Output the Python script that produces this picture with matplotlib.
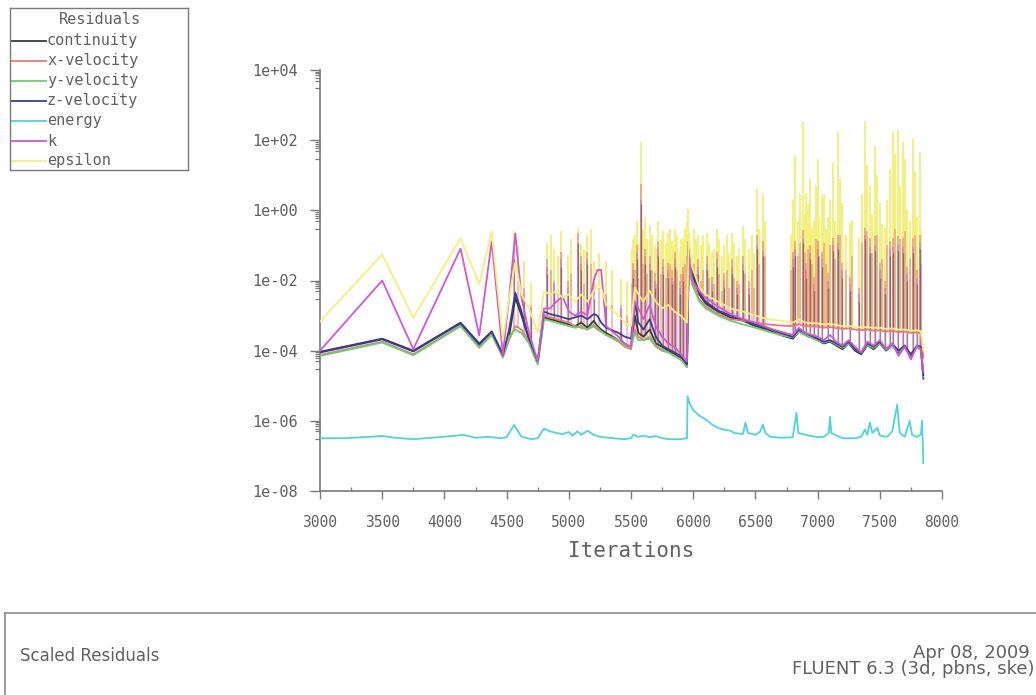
import numpy as np
import matplotlib

matplotlib.use("Agg")
import matplotlib.pyplot as plt
from matplotlib.lines import Line2D
from matplotlib.ticker import FixedLocator, FuncFormatter, MultipleLocator

# ---------- residual history ----------
ITERS = [
    3000, 3500, 3750, 4130, 4280, 4380, 4470, 4520, 4570, 4620,
    4680, 4750, 4800, 4850, 4900, 4950, 5000, 5050, 5100, 5150,
    5200, 5230, 5260, 5300, 5400, 5450, 5500, 5530, 5560, 5600,
    5650, 5700, 5750, 5800, 5850, 5900, 5950, 5965, 5990, 6050,
    6100, 6200, 6300, 6400, 6500, 6600, 6700, 6800, 6850, 6900,
    7000, 7050, 7100, 7150, 7200, 7250, 7300, 7350, 7400, 7450,
    7500, 7550, 7600, 7650, 7700, 7750, 7800, 7830, 7850,
]

CONTINUITY = [
    9.3e-5, 2.2e-4, 1.0e-4, 6.3e-4, 1.6e-4, 3.5e-4, 7.9e-5, 2.5e-4, 3.2e-3, 1.0e-3,
    2.0e-4, 4.5e-5, 8.9e-4, 7.9e-4, 7.1e-4, 6.3e-4, 5.6e-4, 5.0e-4, 6.3e-4, 4.5e-4,
    7.1e-4, 5.0e-4, 4.0e-4, 3.2e-4, 2.0e-4, 1.4e-4, 1.3e-4, 1.0e-3, 3.2e-4, 2.5e-4,
    4.0e-4, 1.6e-4, 1.3e-4, 1.0e-4, 7.9e-5, 6.3e-5, 3.5e-5, 1.0e-1, 1.6e-2, 4.0e-3,
    2.2e-3, 1.3e-3, 8.9e-4, 7.1e-4, 5.0e-4, 4.0e-4, 2.8e-4, 2.2e-4, 3.5e-4, 2.8e-4,
    2.0e-4, 1.6e-4, 1.8e-4, 1.4e-4, 1.1e-4, 1.6e-4, 1.0e-4, 7.9e-5, 1.4e-4, 1.1e-4,
    1.6e-4, 1.0e-4, 1.4e-4, 8.9e-5, 1.3e-4, 7.1e-5, 1.3e-4, 1.1e-4, 1.6e-5,
]
X_VELOCITY = [
    7.6e-5, 1.8e-4, 7.9e-5, 5.2e-4, 1.3e-4, 3.0e-4, 6.3e-5, 2.0e-4, 5.0e-4, 4.0e-4,
    1.8e-4, 4.5e-5, 1.0e-3, 8.9e-4, 7.9e-4, 7.1e-4, 6.3e-4, 5.0e-4, 4.5e-4, 4.0e-4,
    5.0e-4, 4.0e-4, 3.5e-4, 2.8e-4, 1.8e-4, 1.3e-4, 1.1e-4, 4.0e-4, 2.5e-4, 2.0e-4,
    2.2e-4, 1.3e-4, 1.0e-4, 8.9e-5, 7.1e-5, 5.6e-5, 3.5e-5, 4.0e-2, 1.0e-2, 2.8e-3,
    1.8e-3, 1.1e-3, 7.9e-4, 7.1e-4, 6.3e-4, 5.6e-4, 5.2e-4, 5.0e-4, 5.6e-4, 5.0e-4,
    4.8e-4, 4.5e-4, 4.7e-4, 4.4e-4, 4.2e-4, 4.3e-4, 4.0e-4, 3.8e-4, 4.0e-4, 3.7e-4,
    3.8e-4, 3.5e-4, 3.6e-4, 3.4e-4, 3.5e-4, 3.2e-4, 3.3e-4, 3.2e-4, 6.3e-5,
]
Y_VELOCITY = [
    7.1e-5, 1.7e-4, 7.4e-5, 5.0e-4, 1.2e-4, 2.8e-4, 7.1e-5, 2.5e-4, 4.0e-4, 3.2e-4,
    1.6e-4, 4.0e-5, 7.9e-4, 7.1e-4, 6.3e-4, 5.6e-4, 5.0e-4, 4.5e-4, 5.0e-4, 4.0e-4,
    5.6e-4, 4.5e-4, 3.5e-4, 2.8e-4, 2.0e-4, 1.4e-4, 1.3e-4, 3.2e-4, 2.0e-4, 2.0e-4,
    2.5e-4, 1.4e-4, 1.1e-4, 8.9e-5, 7.1e-5, 5.6e-5, 3.5e-5, 2.5e-2, 7.9e-3, 2.5e-3,
    1.6e-3, 1.0e-3, 7.1e-4, 5.6e-4, 4.5e-4, 3.5e-4, 2.8e-4, 2.4e-4, 3.5e-4, 2.8e-4,
    2.0e-4, 1.7e-4, 1.9e-4, 1.5e-4, 1.2e-4, 1.6e-4, 1.1e-4, 8.9e-5, 1.4e-4, 1.2e-4,
    1.6e-4, 1.05e-4, 1.4e-4, 9.5e-5, 1.3e-4, 7.6e-5, 1.3e-4, 1.1e-4, 1.8e-5,
]
Z_VELOCITY = [
    8.9e-5, 2.1e-4, 9.5e-5, 6.0e-4, 1.5e-4, 3.5e-4, 7.6e-5, 4.0e-4, 4.5e-3, 1.3e-3,
    2.2e-4, 5.0e-5, 1.3e-3, 1.1e-3, 1.0e-3, 8.9e-4, 7.9e-4, 8.9e-4, 1.0e-3, 7.9e-4,
    1.1e-3, 1.0e-3, 6.3e-4, 4.5e-4, 3.2e-4, 2.5e-4, 2.2e-4, 2.5e-3, 6.3e-4, 4.0e-4,
    7.9e-4, 2.5e-4, 1.4e-4, 1.1e-4, 8.9e-5, 7.1e-5, 4.0e-5, 1.3e-1, 2.0e-2, 4.5e-3,
    2.5e-3, 1.4e-3, 1.0e-3, 7.9e-4, 5.6e-4, 4.5e-4, 3.2e-4, 2.5e-4, 4.0e-4, 3.2e-4,
    2.2e-4, 1.8e-4, 2.0e-4, 1.6e-4, 1.3e-4, 1.8e-4, 1.1e-4, 8.9e-5, 1.6e-4, 1.3e-4,
    1.8e-4, 1.1e-4, 1.6e-4, 1.0e-4, 1.4e-4, 7.9e-5, 1.4e-4, 1.3e-4, 2.0e-5,
]
K_RES = [
    1.0e-4, 1.0e-2, 1.1e-4, 8.1e-2, 2.7e-4, 1.3e-1, 7.9e-5, 3.2e-3, 2.2e-1, 3.2e-3,
    3.2e-4, 5.0e-5, 1.6e-3, 1.6e-3, 2.5e-3, 3.5e-3, 1.3e-3, 1.0e-3, 1.3e-3, 1.0e-3,
    1.0e-2, 2.0e-2, 2.0e-2, 5.0e-4, 2.5e-4, 1.6e-4, 1.3e-4, 2.5e-3, 1.6e-3, 7.9e-4,
    2.0e-3, 5.0e-4, 2.5e-4, 1.6e-4, 1.3e-4, 7.9e-5, 5.0e-5, 6.3e-2, 1.0e-2, 5.0e-3,
    3.2e-3, 1.8e-3, 1.1e-3, 7.9e-4, 6.3e-4, 4.5e-4, 3.5e-4, 2.8e-4, 4.5e-4, 3.2e-4,
    2.5e-4, 2.0e-4, 2.8e-4, 1.8e-4, 1.4e-4, 2.0e-4, 1.3e-4, 8.9e-5, 1.8e-4, 1.4e-4,
    2.0e-4, 1.1e-4, 1.6e-4, 7.1e-5, 1.3e-4, 5.6e-5, 1.4e-4, 1.1e-4, 2.5e-5,
]
EPSILON = [
    6.8e-4, 5.5e-2, 8.7e-4, 1.6e-1, 7.8e-3, 2.5e-1, 2.0e-4, 3.2e-3, 3.2e-2, 4.0e-3,
    1.6e-3, 3.2e-4, 5.0e-3, 4.0e-3, 5.0e-3, 3.2e-3, 4.0e-3, 2.5e-3, 4.0e-3, 2.5e-3,
    5.0e-3, 7.9e-3, 6.3e-3, 2.0e-3, 1.0e-3, 6.3e-4, 5.0e-4, 6.3e-3, 4.0e-3, 2.5e-3,
    5.0e-3, 2.5e-3, 1.6e-3, 2.0e-3, 1.3e-3, 1.0e-3, 6.3e-4, 2.5e-1, 2.5e-2, 6.3e-3,
    4.0e-3, 2.5e-3, 1.6e-3, 1.3e-3, 1.0e-3, 7.9e-4, 7.1e-4, 6.3e-4, 7.9e-4, 6.3e-4,
    6.0e-4, 5.6e-4, 5.8e-4, 5.4e-4, 5.0e-4, 5.1e-4, 4.8e-4, 4.6e-4, 4.7e-4, 4.5e-4,
    4.5e-4, 4.2e-4, 4.3e-4, 4.0e-4, 4.0e-4, 3.7e-4, 3.8e-4, 3.6e-4, 1.0e-4,
]

ENERGY_IT = [
    3000, 3200, 3400, 3500, 3600, 3750, 3900, 4100, 4150, 4250,
    4350, 4450, 4500, 4560, 4620, 4700, 4750, 4800, 4850, 4900,
    4950, 5000, 5030, 5070, 5100, 5150, 5200, 5250, 5350, 5450,
    5500, 5520, 5560, 5600, 5650, 5700, 5750, 5800, 5900, 5950,
    5955, 5970, 6000, 6050, 6100, 6150, 6200, 6250, 6300, 6330,
    6400, 6420, 6440, 6500, 6540, 6560, 6580, 6620, 6700, 6800,
    6830, 6845, 6900, 7000, 7050, 7090, 7100, 7110, 7200, 7300,
    7350, 7380, 7400, 7420, 7440, 7480, 7500, 7560, 7600, 7640,
    7660, 7700, 7740, 7760, 7800, 7830, 7840, 7850,
]
ENERGY = [
    3.2e-7, 3.2e-7, 3.5e-7, 3.7e-7, 3.3e-7, 3.0e-7, 3.3e-7, 3.8e-7, 4.0e-7, 3.3e-7,
    3.5e-7, 3.2e-7, 3.4e-7, 7.6e-7, 3.5e-7, 3.0e-7, 3.2e-7, 6.0e-7, 5.0e-7, 4.5e-7,
    4.2e-7, 4.8e-7, 3.8e-7, 5.0e-7, 4.0e-7, 5.2e-7, 4.0e-7, 3.5e-7, 3.2e-7, 3.0e-7,
    3.2e-7, 4.0e-7, 3.5e-7, 3.8e-7, 3.4e-7, 3.7e-7, 3.2e-7, 3.0e-7, 3.0e-7, 3.2e-7,
    5.0e-6, 3.2e-6, 2.0e-6, 1.4e-6, 1.1e-6, 7.9e-7, 6.3e-7, 5.6e-7, 5.2e-7, 4.5e-7,
    4.2e-7, 8.9e-7, 4.5e-7, 4.0e-7, 5.0e-7, 7.9e-7, 4.5e-7, 3.5e-7, 3.3e-7, 3.4e-7,
    1.7e-6, 4.5e-7, 4.0e-7, 3.4e-7, 3.5e-7, 4.5e-7, 1.3e-6, 4.5e-7, 3.2e-7, 3.2e-7,
    3.5e-7, 5.6e-7, 4.0e-7, 8.9e-7, 4.5e-7, 6.3e-7, 3.8e-7, 3.5e-7, 5.0e-7, 2.9e-6,
    4.5e-7, 3.5e-7, 1.0e-6, 4.0e-7, 3.5e-7, 4.0e-7, 1.0e-6, 6.3e-8,
]

# single-iteration residual jumps (peak value per equation)
SPIKE_IT = [
    4560, 4640, 4700, 4825, 4880, 4940, 4990, 5070, 5100, 5150, 5200, 5300, 5420,
    5520, 5545, 5580, 5610, 5650, 5690, 5720, 5760, 5800, 5830, 5855, 5890, 5920, 5960,
    6040, 6110, 6150, 6190, 6250, 6310, 6350, 6400, 6450, 6510, 6560,
    6800, 6820, 6885, 6910, 6940, 6970, 7000, 7035, 7080, 7120, 7165, 7200, 7260, 7330,
    7380, 7420, 7460, 7500, 7545, 7580, 7605, 7645, 7685, 7720, 7765, 7800, 7820,
]
EPS_TOP = [
    0.25, 0.035, 0.0087, 0.12, 0.078, 0.25, 0.055, 0.32, 0.11, 0.2, 0.035, 0.035, 0.011,
    0.15, 0.5, 87, 0.63, 0.35, 0.1, 0.5, 0.25, 0.23, 0.13, 0.29, 0.063, 0.16, 1.1,
    0.2, 0.23, 0.063, 0.29, 0.1, 0.23, 0.05, 0.35, 0.079, 4.0, 2.9,
    2.0, 35, 320, 3.2, 7.8, 0.5, 29, 2.5, 0.63, 23, 170, 1.6, 0.46, 0.16,
    350, 4.9, 68, 1.6, 0.32, 15, 170, 200, 87, 1.0, 110, 0.63, 46,
]
XVEL_TOP = [
    0.11, 0.0063, 0.0016, 0.04, 0.01, 0.063, 0.01, 0.23, 0.05, 0.063, 0.0063, 0.004, 0.0016,
    0.032, 0.1, 5.5, 0.079, 0.05, 0.016, 0.13, 0.04, 0.032, 0.02, 0.063, 0.01, 0.025, 0.13,
    0.04, 0.05, 0.013, 0.063, 0.016, 0.04, 0.01, 0.05, 0.01, 0.2, 0.13,
    0.063, 0.13, 0.28, 0.032, 0.1, 0.013, 0.13, 0.063, 0.016, 0.16, 0.2, 0.032, 0.013, 0.0063,
    0.32, 0.16, 0.18, 0.032, 0.01, 0.13, 0.16, 0.18, 0.16, 0.025, 0.16, 0.02, 0.2,
]
CONT_TOP = [
    0.04, 0.003, 0.001, 0.015, 0.005, 0.025, 0.004, 0.12, 0.02, 0.03, 0.003, 0.002, 0.001,
    0.012, 0.04, 1.5, 0.03, 0.02, 0.006, 0.05, 0.015, 0.012, 0.008, 0.025, 0.004, 0.01, 0.06,
    0.015, 0.02, 0.005, 0.025, 0.006, 0.015, 0.004, 0.02, 0.004, 0.08, 0.05,
    0.025, 0.05, 0.12, 0.012, 0.04, 0.005, 0.05, 0.025, 0.006, 0.07, 0.08, 0.012, 0.005, 0.0025,
    0.15, 0.06, 0.07, 0.012, 0.004, 0.05, 0.06, 0.07, 0.06, 0.01, 0.06, 0.008, 0.08,
]
K_TOP = [
    0.06, 0.004, 0.002, 0.025, 0.008, 0.04, 0.006, 0.1, 0.03, 0.04, 0.004, 0.003, 0.002,
    0.02, 0.06, 2.0, 0.05, 0.03, 0.01, 0.08, 0.025, 0.02, 0.012, 0.04, 0.006, 0.015, 0.08,
    0.025, 0.03, 0.008, 0.04, 0.01, 0.025, 0.006, 0.03, 0.006, 0.1, 0.07,
    0.04, 0.08, 0.15, 0.02, 0.06, 0.008, 0.08, 0.04, 0.01, 0.1, 0.12, 0.02, 0.008, 0.004,
    0.2, 0.09, 0.1, 0.02, 0.006, 0.08, 0.09, 0.1, 0.09, 0.015, 0.09, 0.012, 0.12,
]

# smaller jumps that only show up in the turbulence and momentum residuals
MINOR_IT = [
    4590, 4860, 4910, 5020, 5120, 5180, 5240, 5350, 5470,
    5510, 5535, 5560, 5595, 5625, 5670, 5705, 5740, 5780, 5815, 5845, 5870, 5905, 5935, 5950,
    6010, 6025, 6060, 6080, 6130, 6170, 6210, 6230, 6270, 6290, 6330, 6370, 6420, 6470,
    6490, 6530, 6580,
    6790, 6840, 6860, 6900, 6925, 6955, 6985, 7015, 7050, 7065, 7100, 7140, 7180, 7230, 7280,
    7360, 7400, 7440, 7480, 7520, 7560, 7620, 7660, 7700, 7740, 7780, 7835,
]
EPS_MINOR_TOP = [
    0.1, 0.2, 0.05, 0.15, 0.08, 0.3, 0.06, 0.02, 0.01,
    0.08, 0.2, 0.12, 0.3, 0.15, 0.2, 0.08, 0.15, 0.12, 0.3, 0.1, 0.2, 0.15, 0.3, 0.5,
    0.3, 0.15, 0.1, 0.2, 0.12, 0.08, 0.15, 0.05, 0.2, 0.06, 0.12, 0.08, 0.15, 0.2,
    0.06, 0.3, 0.5,
    0.2, 0.5, 3.0, 0.8, 1.5, 0.3, 5.0, 0.6, 3.0, 0.3, 2.0, 0.5, 8.0, 0.2, 0.5,
    3.0, 20, 0.8, 10, 0.4, 2.0, 40, 5.0, 30, 0.5, 12, 0.3,
]
XVEL_MINOR_TOP = [
    0.01, 0.02, 0.005, 0.015, 0.008, 0.03, 0.006, 0.002, 0.001,
    0.008, 0.02, 0.012, 0.03, 0.015, 0.02, 0.008, 0.015, 0.012, 0.03, 0.01, 0.02, 0.015, 0.03, 0.05,
    0.03, 0.015, 0.01, 0.02, 0.012, 0.008, 0.015, 0.005, 0.02, 0.006, 0.012, 0.008, 0.015, 0.02,
    0.006, 0.03, 0.05,
    0.02, 0.05, 0.12, 0.06, 0.08, 0.03, 0.15, 0.05, 0.12, 0.03, 0.1, 0.04, 0.2, 0.02, 0.05,
    0.12, 0.25, 0.06, 0.2, 0.04, 0.1, 0.3, 0.15, 0.25, 0.04, 0.2, 0.03,
]

NAMES = ["continuity", "x-velocity", "y-velocity", "z-velocity", "energy", "k", "epsilon"]
COLORS = ["#3a3a3a", "#e67a7a", "#6cce6c", "#3c3c98", "#4cd6d6", "#d258d2", "#f4f07a"]
C_CONT, C_X, C_Y, C_Z, C_E, C_K, C_EPS = COLORS

TEXT_GRAY = "#606060"
AXIS_GRAY = "#7a7a7a"
MONO = "DejaVu Sans Mono"

W, H = 1036, 695
plt.rcParams["font.family"] = MONO

fig = plt.figure(figsize=(W / 100, H / 100), dpi=100)
fig.patch.set_facecolor("white")

# ---------- residual axes ----------
ax = fig.add_axes([320 / W, 1 - 491 / H, 622 / W, (491 - 70) / H])
ax.set_yscale("log")
ax.set_xlim(3000, 8000)
ax.set_ylim(1e-8, 1e4)


def floor_at(its, base):
    # residual level the jump starts from
    return 10 ** np.interp(its, ITERS, np.log10(base))


ax.vlines(MINOR_IT, floor_at(MINOR_IT, EPSILON), EPS_MINOR_TOP, colors=C_EPS,
          lw=1.4, zorder=1)
ax.vlines(SPIKE_IT, floor_at(SPIKE_IT, EPSILON), EPS_TOP, colors=C_EPS, lw=1.4, zorder=1)
ax.vlines(MINOR_IT, floor_at(MINOR_IT, X_VELOCITY), XVEL_MINOR_TOP, colors=C_X,
          lw=1.2, alpha=0.55, zorder=2)
ax.vlines(SPIKE_IT, floor_at(SPIKE_IT, X_VELOCITY), XVEL_TOP, colors=C_X, lw=1.3,
          alpha=0.6, zorder=2)
ax.vlines(SPIKE_IT, floor_at(SPIKE_IT, K_RES), K_TOP, colors=C_K, lw=1.1,
          alpha=0.5, zorder=2)
ax.vlines(SPIKE_IT, floor_at(SPIKE_IT, CONTINUITY), CONT_TOP, colors=C_CONT, lw=1.0,
          alpha=0.45, zorder=2)

for series, col in zip([CONTINUITY, X_VELOCITY, Y_VELOCITY, Z_VELOCITY], COLORS[:4]):
    ax.plot(ITERS, series, color=col, lw=1.3, zorder=3)
ax.plot(ENERGY_IT, ENERGY, color=C_E, lw=1.3, zorder=3)
ax.plot(ITERS, K_RES, color=C_K, lw=1.3, zorder=3)
ax.plot(ITERS, EPSILON, color=C_EPS, lw=1.3, zorder=3)

for side in ("top", "right"):
    ax.spines[side].set_visible(False)
for side in ("left", "bottom"):
    ax.spines[side].set_color(AXIS_GRAY)
    ax.spines[side].set_linewidth(1.2)

major_y = [10.0 ** e for e in range(-8, 5, 2)]
minor_y = [m * 10.0 ** e for e in range(-7, 4, 2) for m in (3, 5, 6, 7, 8, 9)]
ax.yaxis.set_major_locator(FixedLocator(major_y))
ax.yaxis.set_minor_locator(FixedLocator(minor_y))
ax.yaxis.set_major_formatter(
    FuncFormatter(lambda v, _: f"1e{int(round(np.log10(v))):+03d}"))
ax.yaxis.set_minor_formatter(FuncFormatter(lambda v, _: ""))
ax.xaxis.set_major_locator(MultipleLocator(500))
ax.xaxis.set_minor_locator(MultipleLocator(250))

ax.tick_params(axis="y", which="major", direction="out", length=7.2, width=1.0,
               color=AXIS_GRAY, labelcolor=TEXT_GRAY, labelsize=11, pad=8.5)
ax.tick_params(axis="y", which="minor", direction="out", length=3.6, width=0.9,
               color=AXIS_GRAY)
ax.tick_params(axis="x", which="major", direction="out", length=6, width=1.0,
               color=AXIS_GRAY, labelcolor=TEXT_GRAY, labelsize=10.5, pad=11)
ax.tick_params(axis="x", which="minor", direction="in", length=3, width=0.9,
               color=AXIS_GRAY)

ax.set_xlabel("Iterations", fontsize=15, color=TEXT_GRAY, labelpad=8)

# ---------- equation key ----------
lax = fig.add_axes([10 / W, 1 - 170 / H, 178 / W, 162 / H])
lax.set_xlim(0, 178)
lax.set_ylim(162, 0)
lax.set_xticks([])
lax.set_yticks([])
for sp in lax.spines.values():
    sp.set_color(AXIS_GRAY)
    sp.set_linewidth(1.0)
lax.text(90, 12, "Residuals", ha="center", va="center", fontsize=11, color=TEXT_GRAY)
for i, (name, col) in enumerate(zip(NAMES, COLORS)):
    yy = 33 + i * 20
    lax.add_line(Line2D([1, 36], [yy, yy], color=col, lw=1.3))
    lax.text(37, yy, name, ha="left", va="center", fontsize=11, color=TEXT_GRAY)

# ---------- plot header strip ----------
bax = fig.add_axes([5 / W, 0, 1.0, (H - 613) / H])
bax.set_xticks([])
bax.set_yticks([])
for side in ("right", "bottom"):
    bax.spines[side].set_visible(False)
for side in ("left", "top"):
    bax.spines[side].set_color("#8a8a8a")
    bax.spines[side].set_linewidth(1.2)

SANS = "DejaVu Sans"
fig.text(20 / W, 1 - 656 / H, "Scaled Residuals", ha="left", va="center",
         fontsize=12, color=TEXT_GRAY, family=SANS)
fig.text(1030 / W, 1 - 653 / H, "Apr 08, 2009", ha="right", va="center",
         fontsize=13, color=TEXT_GRAY, family=SANS)
fig.text(1034 / W, 1 - 669 / H, "FLUENT 6.3 (3d, pbns, ske)", ha="right", va="center",
         fontsize=13, color=TEXT_GRAY, family=SANS)

fig.savefig("out.png", dpi=100, facecolor="white")
plt.close(fig)
